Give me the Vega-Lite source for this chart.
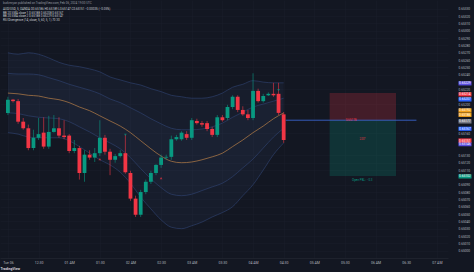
{
  "$schema": "https://vega.github.io/schema/vega-lite/v6.json",
  "width": 448,
  "height": 258,
  "autosize": {"type": "none"},
  "padding": {"left": 0, "top": 0, "right": 26, "bottom": 14},
  "background": "#131722",
  "config": {"view": {"stroke": null}, "font": "Roboto"},
  "title": {
    "text": "burkmryan published on TradingView.com, Feb 06, 2024 19:00 UTC",
    "subtitle": [
      "AUD/USD, 5, OANDA  O0.65186 H0.65189 L0.65147 C0.65151 −0.00035 (−0.05%)",
      "BB 20 SMA close 1  0.65188  0.65208  0.65167",
      "BB 20 SMA close 2  0.65188  0.65229  0.65147",
      "RSI Divergence (14, close, 5, 60, 5, 1)  70  30"
    ],
    "anchor": "start",
    "frame": "group",
    "orient": "top",
    "offset": -22,
    "dx": 3,
    "fontSize": 3,
    "fontWeight": "normal",
    "color": "#9598a1",
    "subtitleFontSize": 3,
    "subtitleColor": "#c8cbd3",
    "subtitlePadding": 3.2,
    "subtitleLineHeight": 3.6
  },
  "datasets": {
    "candles": [
      {"t":"2024-02-06T00:00Z","o":0.65188,"h":0.6521,"l":0.65185,"c":0.65206},
      {"t":"2024-02-06T00:05Z","o":0.65206,"h":0.65207,"l":0.65202,"c":0.65204},
      {"t":"2024-02-06T00:10Z","o":0.65204,"h":0.65207,"l":0.65173,"c":0.65176},
      {"t":"2024-02-06T00:15Z","o":0.65176,"h":0.65181,"l":0.65165,"c":0.65167},
      {"t":"2024-02-06T00:20Z","o":0.65167,"h":0.65172,"l":0.65137,"c":0.6514},
      {"t":"2024-02-06T00:25Z","o":0.6514,"h":0.65165,"l":0.65137,"c":0.65154},
      {"t":"2024-02-06T00:30Z","o":0.65154,"h":0.65181,"l":0.65151,"c":0.65159},
      {"t":"2024-02-06T00:35Z","o":0.65161,"h":0.65182,"l":0.65139,"c":0.65142},
      {"t":"2024-02-06T00:40Z","o":0.65142,"h":0.65184,"l":0.65139,"c":0.65162},
      {"t":"2024-02-06T00:45Z","o":0.65162,"h":0.65185,"l":0.65161,"c":0.65167},
      {"t":"2024-02-06T00:50Z","o":0.65167,"h":0.65182,"l":0.65154,"c":0.65157},
      {"t":"2024-02-06T00:55Z","o":0.65157,"h":0.65178,"l":0.65152,"c":0.65155},
      {"t":"2024-02-06T01:00Z","o":0.65157,"h":0.65159,"l":0.65133,"c":0.65136},
      {"t":"2024-02-06T01:05Z","o":0.65136,"h":0.65151,"l":0.65133,"c":0.6514},
      {"t":"2024-02-06T01:10Z","o":0.6514,"h":0.65143,"l":0.65097,"c":0.65106},
      {"t":"2024-02-06T01:15Z","o":0.65106,"h":0.65137,"l":0.65094,"c":0.65131},
      {"t":"2024-02-06T01:20Z","o":0.65131,"h":0.65137,"l":0.65124,"c":0.65127},
      {"t":"2024-02-06T01:25Z","o":0.65127,"h":0.6514,"l":0.65121,"c":0.65133},
      {"t":"2024-02-06T01:30Z","o":0.65133,"h":0.65178,"l":0.65129,"c":0.65154},
      {"t":"2024-02-06T01:35Z","o":0.65154,"h":0.65158,"l":0.65131,"c":0.65135},
      {"t":"2024-02-06T01:40Z","o":0.65135,"h":0.65139,"l":0.65103,"c":0.65124},
      {"t":"2024-02-06T01:45Z","o":0.65124,"h":0.65132,"l":0.6512,"c":0.65129},
      {"t":"2024-02-06T01:50Z","o":0.65129,"h":0.65137,"l":0.65127,"c":0.65133},
      {"t":"2024-02-06T01:55Z","o":0.65133,"h":0.65158,"l":0.65105,"c":0.65107},
      {"t":"2024-02-06T02:00Z","o":0.65106,"h":0.65109,"l":0.65068,"c":0.65071},
      {"t":"2024-02-06T02:05Z","o":0.65071,"h":0.65075,"l":0.65046,"c":0.65049},
      {"t":"2024-02-06T02:10Z","o":0.65049,"h":0.65083,"l":0.65046,"c":0.6508},
      {"t":"2024-02-06T02:15Z","o":0.6508,"h":0.65097,"l":0.65077,"c":0.65094},
      {"t":"2024-02-06T02:20Z","o":0.65094,"h":0.65109,"l":0.65091,"c":0.65106},
      {"t":"2024-02-06T02:25Z","o":0.65106,"h":0.65118,"l":0.65103,"c":0.65117},
      {"t":"2024-02-06T02:30Z","o":0.65117,"h":0.65131,"l":0.65113,"c":0.65127},
      {"t":"2024-02-06T02:35Z","o":0.65127,"h":0.65131,"l":0.65124,"c":0.65128},
      {"t":"2024-02-06T02:40Z","o":0.65128,"h":0.65157,"l":0.65124,"c":0.65152},
      {"t":"2024-02-06T02:45Z","o":0.65152,"h":0.65158,"l":0.6515,"c":0.65155},
      {"t":"2024-02-06T02:50Z","o":0.65152,"h":0.65163,"l":0.6515,"c":0.65161},
      {"t":"2024-02-06T02:55Z","o":0.65159,"h":0.65163,"l":0.65151,"c":0.65154},
      {"t":"2024-02-06T03:00Z","o":0.65154,"h":0.65181,"l":0.65151,"c":0.65178},
      {"t":"2024-02-06T03:05Z","o":0.65177,"h":0.6518,"l":0.65172,"c":0.65174},
      {"t":"2024-02-06T03:10Z","o":0.65174,"h":0.65177,"l":0.65169,"c":0.65172},
      {"t":"2024-02-06T03:15Z","o":0.65174,"h":0.65177,"l":0.65163,"c":0.65166},
      {"t":"2024-02-06T03:20Z","o":0.65166,"h":0.65169,"l":0.65155,"c":0.65158},
      {"t":"2024-02-06T03:25Z","o":0.65158,"h":0.65185,"l":0.65155,"c":0.65182},
      {"t":"2024-02-06T03:30Z","o":0.65182,"h":0.65185,"l":0.65176,"c":0.65178},
      {"t":"2024-02-06T03:35Z","o":0.65181,"h":0.65199,"l":0.65178,"c":0.65196},
      {"t":"2024-02-06T03:40Z","o":0.65196,"h":0.65212,"l":0.65193,"c":0.6521},
      {"t":"2024-02-06T03:45Z","o":0.6521,"h":0.65212,"l":0.65189,"c":0.65192},
      {"t":"2024-02-06T03:50Z","o":0.65192,"h":0.65197,"l":0.65184,"c":0.65186},
      {"t":"2024-02-06T03:55Z","o":0.65186,"h":0.65192,"l":0.65178,"c":0.65181},
      {"t":"2024-02-06T04:00Z","o":0.65181,"h":0.65242,"l":0.65178,"c":0.65218},
      {"t":"2024-02-06T04:05Z","o":0.65218,"h":0.65221,"l":0.65202,"c":0.65204},
      {"t":"2024-02-06T04:10Z","o":0.65204,"h":0.65214,"l":0.65202,"c":0.65211},
      {"t":"2024-02-06T04:15Z","o":0.65212,"h":0.65216,"l":0.65211,"c":0.65214},
      {"t":"2024-02-06T04:20Z","o":0.65214,"h":0.65229,"l":0.6521,"c":0.65212},
      {"t":"2024-02-06T04:25Z","o":0.65214,"h":0.65229,"l":0.65185,"c":0.65188},
      {"t":"2024-02-06T04:30Z","o":0.65186,"h":0.65189,"l":0.65147,"c":0.65151}
    ],
    "bands": [
      {"t":"2024-02-06T00:00Z","u2":0.6527,"u1":0.65242,"b":0.65215,"l1":0.65188,"l2":0.65161},
      {"t":"2024-02-06T00:10Z","u2":0.65268,"u1":0.65241,"b":0.65214,"l1":0.65187,"l2":0.65159},
      {"t":"2024-02-06T00:20Z","u2":0.6527,"u1":0.65241,"b":0.65212,"l1":0.65184,"l2":0.65155},
      {"t":"2024-02-06T00:30Z","u2":0.65268,"u1":0.6524,"b":0.65211,"l1":0.65182,"l2":0.65154},
      {"t":"2024-02-06T00:40Z","u2":0.65263,"u1":0.65236,"b":0.65208,"l1":0.65181,"l2":0.65154},
      {"t":"2024-02-06T00:50Z","u2":0.65257,"u1":0.65232,"b":0.65206,"l1":0.6518,"l2":0.65154},
      {"t":"2024-02-06T01:00Z","u2":0.65253,"u1":0.65227,"b":0.65202,"l1":0.65176,"l2":0.6515},
      {"t":"2024-02-06T01:10Z","u2":0.65251,"u1":0.65223,"b":0.65196,"l1":0.65169,"l2":0.65142},
      {"t":"2024-02-06T01:20Z","u2":0.65248,"u1":0.65219,"b":0.65191,"l1":0.65162,"l2":0.65133},
      {"t":"2024-02-06T01:30Z","u2":0.65244,"u1":0.65214,"b":0.65184,"l1":0.65154,"l2":0.65124},
      {"t":"2024-02-06T01:40Z","u2":0.65237,"u1":0.65207,"b":0.65177,"l1":0.65147,"l2":0.65117},
      {"t":"2024-02-06T01:50Z","u2":0.65233,"u1":0.65202,"b":0.6517,"l1":0.65139,"l2":0.65107},
      {"t":"2024-02-06T02:00Z","u2":0.65229,"u1":0.65195,"b":0.65161,"l1":0.65127,"l2":0.65092},
      {"t":"2024-02-06T02:10Z","u2":0.65226,"u1":0.65188,"b":0.6515,"l1":0.65112,"l2":0.65073},
      {"t":"2024-02-06T02:20Z","u2":0.65221,"u1":0.6518,"b":0.65139,"l1":0.65098,"l2":0.65057},
      {"t":"2024-02-06T02:30Z","u2":0.65217,"u1":0.65173,"b":0.65129,"l1":0.65086,"l2":0.65042},
      {"t":"2024-02-06T02:40Z","u2":0.65212,"u1":0.65167,"b":0.65122,"l1":0.65077,"l2":0.65032},
      {"t":"2024-02-06T02:50Z","u2":0.6521,"u1":0.65165,"b":0.6512,"l1":0.65075,"l2":0.6503},
      {"t":"2024-02-06T03:00Z","u2":0.65208,"u1":0.65165,"b":0.65121,"l1":0.65077,"l2":0.65034},
      {"t":"2024-02-06T03:10Z","u2":0.65208,"u1":0.65166,"b":0.65124,"l1":0.65082,"l2":0.65039},
      {"t":"2024-02-06T03:20Z","u2":0.6521,"u1":0.65169,"b":0.65128,"l1":0.65087,"l2":0.65046},
      {"t":"2024-02-06T03:30Z","u2":0.65215,"u1":0.65174,"b":0.65133,"l1":0.65092,"l2":0.65052},
      {"t":"2024-02-06T03:40Z","u2":0.65223,"u1":0.65182,"b":0.65142,"l1":0.65101,"l2":0.6506},
      {"t":"2024-02-06T03:50Z","u2":0.65227,"u1":0.65189,"b":0.65151,"l1":0.65113,"l2":0.65075},
      {"t":"2024-02-06T04:00Z","u2":0.65232,"u1":0.65196,"b":0.65161,"l1":0.65125,"l2":0.6509},
      {"t":"2024-02-06T04:10Z","u2":0.6523,"u1":0.652,"b":0.6517,"l1":0.6514,"l2":0.6511},
      {"t":"2024-02-06T04:20Z","u2":0.65229,"u1":0.65204,"b":0.6518,"l1":0.65155,"l2":0.65131},
      {"t":"2024-02-06T04:30Z","u2":0.65229,"u1":0.65208,"b":0.65188,"l1":0.65167,"l2":0.65147}
    ],
    "position": [
      {"t":"2024-02-06T05:15Z","t2":"2024-02-06T06:20Z","p0":0.65215,"p1":0.65178,"kind":"stop"},
      {"t":"2024-02-06T05:15Z","t2":"2024-02-06T06:20Z","p0":0.65178,"p1":0.65102,"kind":"target"}
    ],
    "entry": [
      {"t":"2024-02-06T04:32Z","t2":"2024-02-06T06:40Z","p":0.65178}
    ],
    "notes": [
      {"t":"2024-02-06T05:47Z","p":0.65152,"label":"2.07","kind":"ratio"},
      {"t":"2024-02-06T05:47Z","p":0.65097,"label":"Open P&L: −0.3","kind":"pnl"},
      {"t":"2024-02-06T05:36Z","p":0.65178,"label":"0.65178","kind":"entry"}
    ],
    "signals": [
      {"t":"2024-02-06T01:30Z","p":0.65125,"kind":"up"},
      {"t":"2024-02-06T02:30Z","p":0.65099,"kind":"up"},
      {"t":"2024-02-06T01:55Z","p":0.65158,"kind":"down"},
      {"t":"2024-02-06T04:25Z","p":0.65219,"kind":"down"}
    ]
  },
  "encoding": {
    "x": {"field": "t", "type": "temporal",
      "scale": {"type": "utc", "domain": [{"year":2024,"month":2,"date":5,"hours":23,"minutes":57,"seconds":9,"utc":true},{"year":2024,"month":2,"date":6,"hours":7,"minutes":6,"utc":true}]},
      "axis": {"orient": "bottom",
        "values": [
          {"year":2024,"month":2,"date":6,"hours":0,"minutes":0,"utc":true},
          {"year":2024,"month":2,"date":6,"hours":0,"minutes":30,"utc":true},
          {"year":2024,"month":2,"date":6,"hours":1,"minutes":0,"utc":true},
          {"year":2024,"month":2,"date":6,"hours":1,"minutes":30,"utc":true},
          {"year":2024,"month":2,"date":6,"hours":2,"minutes":0,"utc":true},
          {"year":2024,"month":2,"date":6,"hours":2,"minutes":30,"utc":true},
          {"year":2024,"month":2,"date":6,"hours":3,"minutes":0,"utc":true},
          {"year":2024,"month":2,"date":6,"hours":3,"minutes":30,"utc":true},
          {"year":2024,"month":2,"date":6,"hours":4,"minutes":0,"utc":true},
          {"year":2024,"month":2,"date":6,"hours":4,"minutes":30,"utc":true},
          {"year":2024,"month":2,"date":6,"hours":5,"minutes":0,"utc":true},
          {"year":2024,"month":2,"date":6,"hours":5,"minutes":30,"utc":true},
          {"year":2024,"month":2,"date":6,"hours":6,"minutes":0,"utc":true},
          {"year":2024,"month":2,"date":6,"hours":6,"minutes":30,"utc":true},
          {"year":2024,"month":2,"date":6,"hours":7,"minutes":0,"utc":true}
        ],
        "format": "%H:%M", "formatType": "utc",
        "labelFontSize": 3.5, "labelColor": "#b2b5be", "labelPadding": 2, "ticks": false, "tickSize": 0,
        "domain": true, "domainColor": "#2a2e39", "domainWidth": 0.5,
        "grid": true, "gridColor": "#1b1f2b", "gridWidth": 0.5,
        "labelFlush": false, "labelOverlap": false,
        "title": "TradingView", "titleFontSize": 3.5, "titleColor": "#d1d4dc", "titleAnchor": "start", "titlePadding": 2.5, "titleFontWeight": "bold"}}
  },
  "resolve": {"axis": {"y": "independent"}},
  "layer": [
    {
      "data": {"name": "bands"},
      "mark": {"type": "area", "interpolate": "monotone", "color": "#5a78b8", "opacity": 0.07},
      "encoding": {
        "y": {"field": "u2", "type": "quantitative",
          "scale": {"domain": [0.6499, 0.65342], "zero": false, "nice": false},
          "axis": {"orient": "right", "values": [0.65, 0.6501, 0.6502, 0.6503, 0.6504, 0.6505, 0.6506, 0.6507, 0.6508, 0.6509, 0.6511, 0.6512, 0.6513, 0.6516, 0.652, 0.6522, 0.6524, 0.6525, 0.6526, 0.6527, 0.6528, 0.6529, 0.653, 0.6531, 0.6532, 0.6533],
            "format": ".5f", "labelFontSize": 3.2, "labelColor": "#b2b5be",
            "ticks": false, "tickSize": 0, "labelPadding": 10, "domain": false, "grid": true, "gridColor": "#1b1f2b", "gridWidth": 0.5,
            "labelOverlap": false, "labelFlush": false, "title": null}},
        "y2": {"field": "l2"}
      }
    },
    {
      "data": {"name": "bands"},
      "mark": {"type": "area", "interpolate": "monotone", "color": "#5a78b8", "opacity": 0.05},
      "encoding": {
        "y": {"field": "u1", "type": "quantitative", "scale": {"domain": [0.6499, 0.65342], "zero": false, "nice": false}, "axis": null},
        "y2": {"field": "l1"}
      }
    },
    {
      "data": {"name": "bands"},
      "transform": [{"fold": ["u2", "u1", "l1", "l2"], "as": ["band", "v"]}],
      "mark": {"type": "line", "interpolate": "monotone", "color": "#33487a", "strokeWidth": 0.7, "opacity": 0.8},
      "encoding": {
        "y": {"field": "v", "type": "quantitative", "scale": {"domain": [0.6499, 0.65342], "zero": false, "nice": false}, "axis": null},
        "detail": {"field": "band"}
      }
    },
    {
      "data": {"name": "bands"},
      "mark": {"type": "line", "interpolate": "monotone", "color": "#b97f47", "strokeWidth": 0.7},
      "encoding": {
        "y": {"field": "b", "type": "quantitative", "scale": {"domain": [0.6499, 0.65342], "zero": false, "nice": false}, "axis": null}
      }
    },
    {
      "data": {"name": "position"},
      "mark": {"type": "rect", "opacity": 0.22},
      "encoding": {
        "x2": {"field": "t2"},
        "y": {"field": "p0", "type": "quantitative", "scale": {"domain": [0.6499, 0.65342], "zero": false, "nice": false}, "axis": null},
        "y2": {"field": "p1"},
        "color": {"field": "kind", "type": "nominal", "scale": {"domain": ["stop", "target"], "range": ["#f23645", "#089981"]}, "legend": null}
      }
    },
    {
      "data": {"name": "entry"},
      "mark": {"type": "rule", "color": "#3d6be0", "strokeWidth": 0.8},
      "encoding": {
        "x2": {"field": "t2"},
        "y": {"field": "p", "type": "quantitative", "scale": {"domain": [0.6499, 0.65342], "zero": false, "nice": false},
          "axis": {"orient": "right", "offset": 10, "values": [0.65229, 0.65214, 0.65207, 0.65192, 0.65186, 0.65177, 0.65167, 0.65151, 0.65146, 0.65102],
            "format": ".5f", "ticks": true, "tickSize": 13, "tickWidth": 4.2, "tickRound": false,
            "tickColor": {"condition": [
              {"test": "abs(datum.value-0.65229)<0.000005 || abs(datum.value-0.65146)<0.000005", "value": "#5b4fe0"},
              {"test": "abs(datum.value-0.65214)<0.000005 || abs(datum.value-0.65151)<0.000005", "value": "#f23645"},
              {"test": "abs(datum.value-0.65207)<0.000005 || abs(datum.value-0.65167)<0.000005", "value": "#2962ff"},
              {"test": "abs(datum.value-0.65192)<0.000005 || abs(datum.value-0.65186)<0.000005", "value": "#f0a01a"},
              {"test": "abs(datum.value-0.65177)<0.000005", "value": "#787b86"}
            ], "value": "#089981"},
            "labelPadding": -12.5, "labelFontSize": 3.2, "labelColor": "#ffffff", "labelOverlap": false, "labelFlush": false,
            "domain": false, "grid": false, "title": null}}
      }
    },
    {
      "data": {"name": "candles"},
      "mark": {"type": "rule", "strokeWidth": 0.6},
      "encoding": {
        "y": {"field": "h", "type": "quantitative", "scale": {"domain": [0.6499, 0.65342], "zero": false, "nice": false}, "axis": null},
        "y2": {"field": "l"},
        "color": {"condition": {"test": "datum.c >= datum.o", "value": "#089981"}, "value": "#f23645"}
      }
    },
    {
      "data": {"name": "candles"},
      "mark": {"type": "bar", "size": 3.8},
      "encoding": {
        "y": {"field": "o", "type": "quantitative", "scale": {"domain": [0.6499, 0.65342], "zero": false, "nice": false}, "axis": null},
        "y2": {"field": "c"},
        "color": {"condition": {"test": "datum.c >= datum.o", "value": "#089981"}, "value": "#f23645"}
      }
    },
    {
      "data": {"name": "signals"},
      "mark": {"type": "point", "filled": true, "size": 7},
      "encoding": {
        "y": {"field": "p", "type": "quantitative", "scale": {"domain": [0.6499, 0.65342], "zero": false, "nice": false}, "axis": null},
        "shape": {"field": "kind", "type": "nominal", "scale": {"domain": ["up", "down"], "range": ["triangle-up", "triangle-down"]}, "legend": null},
        "color": {"field": "kind", "type": "nominal", "scale": {"domain": ["up", "down"], "range": ["#2962ff", "#f23645"]}, "legend": null}
      }
    },
    {
      "data": {"name": "notes"},
      "mark": {"type": "text", "fontSize": 3, "align": "center", "baseline": "middle"},
      "encoding": {
        "y": {"field": "p", "type": "quantitative", "scale": {"domain": [0.6499, 0.65342], "zero": false, "nice": false}, "axis": null},
        "text": {"field": "label"},
        "color": {"field": "kind", "type": "nominal", "scale": {"domain": ["ratio", "pnl", "entry"], "range": ["#9598a1", "#4d7ef0", "#7f9cf0"]}, "legend": null}
      }
    }
  ]
}
